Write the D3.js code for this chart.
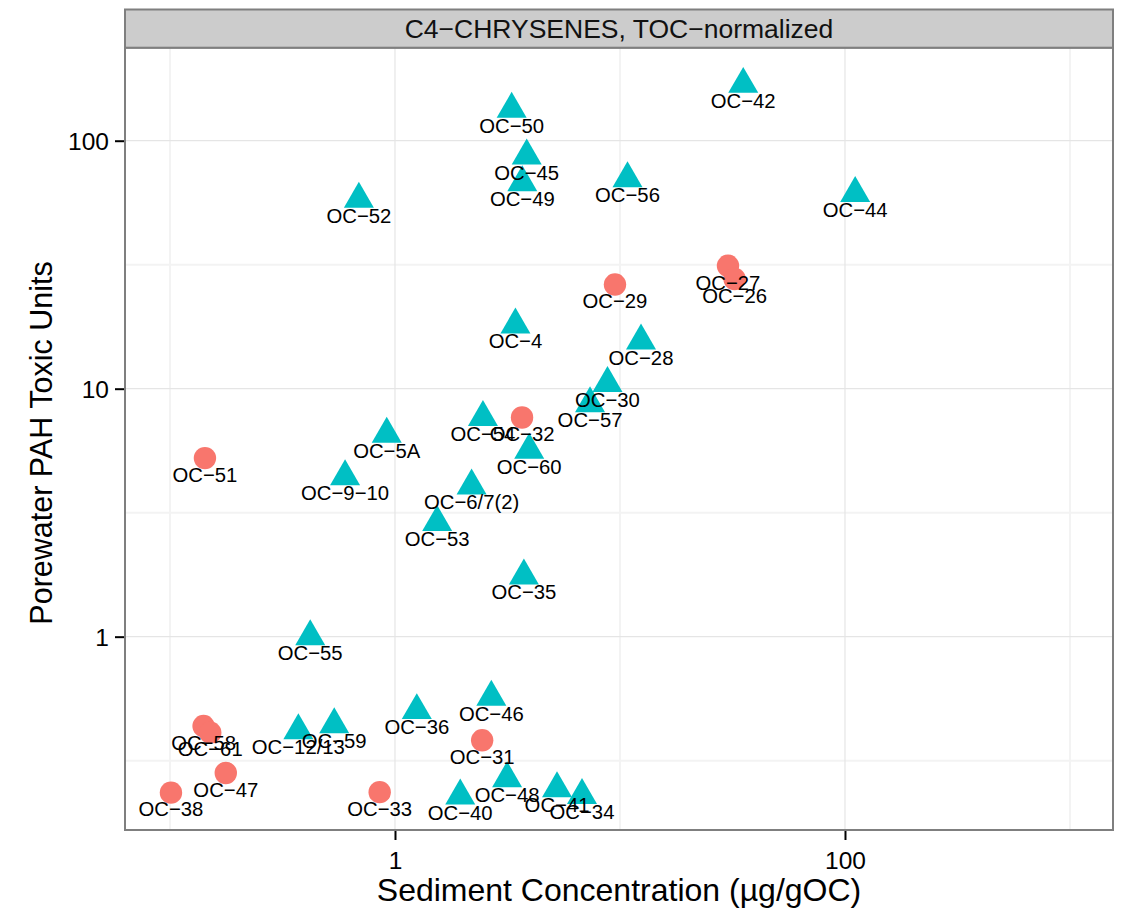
<!DOCTYPE html>
<html>
<head>
<meta charset="utf-8">
<script src="https://cdn.jsdelivr.net/npm/d3@7"></script>
<style>
  html, body { margin: 0; padding: 0; background: #fff; }
  svg { display: block; font-family: "Liberation Sans", Arial, Helvetica, sans-serif; }
</style>
</head>
<body>
<svg id="chart" width="1122" height="914"></svg>
<script>
// ---- data ----
const stripTitle = "C4\u2212CHRYSENES, TOC\u2212normalized";
const xTitle = "Sediment Concentration (\u00b5g/gOC)";
const yTitle = "Porewater PAH Toxic Units";

const siteLabels = [
  "OC\u221242","OC\u221250","OC\u221245","OC\u221249","OC\u221256","OC\u221252","OC\u221244",
  "OC\u22124","OC\u221228","OC\u221230","OC\u221257","OC\u221254","OC\u221260","OC\u22125A",
  "OC\u22129\u221210","OC\u22126/7(2)","OC\u221253","OC\u221235","OC\u221255","OC\u221246",
  "OC\u221236","OC\u221212/13","OC\u221259","OC\u221248","OC\u221240","OC\u221241","OC\u221234",
  "OC\u221227","OC\u221226","OC\u221229","OC\u221232","OC\u221251","OC\u221258","OC\u221261",
  "OC\u221247","OC\u221238","OC\u221233","OC\u221231"
];
const sedConc = [
  35.3, 3.30, 3.85, 3.68, 10.8, 0.691, 111,
  3.43, 12.4, 8.80, 7.36, 2.46, 3.95, 0.919,
  0.600, 2.19, 1.54, 3.74, 0.420, 2.68,
  1.25, 0.372, 0.537, 3.15, 1.95, 5.25, 6.78,
  30.2, 32.3, 9.50, 3.67, 0.143, 0.141, 0.151,
  0.177, 0.101, 0.855, 2.44
];
const toxicUnits = [
  169, 134, 86.9, 67.8, 70.4, 58.1, 61.4,
  18.1, 15.6, 10.5, 8.70, 7.66, 5.66, 6.56,
  4.42, 4.06, 2.89, 1.76, 1.00, 0.571,
  0.504, 0.418, 0.442, 0.268, 0.228, 0.244, 0.229,
  31.3, 27.7, 26.3, 7.65, 5.25, 0.436, 0.410,
  0.282, 0.235, 0.236, 0.382
];
const groups = [
  "T","T","T","T","T","T","T",
  "T","T","T","T","T","T","T",
  "T","T","T","T","T","T",
  "T","T","T","T","T","T","T",
  "C","C","C","C","C","C","C",
  "C","C","C","C"
];
const xTicks = [1, 100];
const xMinor = [0.1, 10, 1000];
const yTicks = [1, 10, 100];
const yMinor = [0.316, 3.16, 31.6];
const groupColors = { C: "#F8766D", T: "#00BFC4" };

// ---- layout ----
const panel = { left: 125, right: 1113, top: 47.7, bottom: 830 };
const strip = { top: 9.5, bottom: 47.7 };

const svg = d3.select("#chart");

const x = d3.scaleLog().domain([0.0631, 1553]).range([panel.left, panel.right]);
const y = d3.scaleLog().domain([0.1661, 237.2]).range([panel.bottom, panel.top]);

const data = siteLabels.map((s, i) => ({ label: s, x: sedConc[i], y: toxicUnits[i], g: groups[i] }));

// panel background
svg.append("rect")
  .attr("x", panel.left).attr("y", panel.top)
  .attr("width", panel.right - panel.left).attr("height", panel.bottom - panel.top)
  .attr("fill", "#fff");

const grid = svg.append("g");
// minor grid
grid.selectAll(".vmin").data(xMinor).join("line")
  .attr("x1", d => x(d)).attr("x2", d => x(d))
  .attr("y1", panel.top).attr("y2", panel.bottom)
  .attr("stroke", "#F3F3F3").attr("stroke-width", 2);
grid.selectAll(".hmin").data(yMinor).join("line")
  .attr("y1", d => y(d)).attr("y2", d => y(d))
  .attr("x1", panel.left).attr("x2", panel.right)
  .attr("stroke", "#F3F3F3").attr("stroke-width", 2);
// major grid
grid.selectAll(".vmaj").data(xTicks).join("line")
  .attr("x1", d => x(d)).attr("x2", d => x(d))
  .attr("y1", panel.top).attr("y2", panel.bottom)
  .attr("stroke", "#E5E5E5").attr("stroke-width", 1.2);
grid.selectAll(".hmaj").data(yTicks).join("line")
  .attr("y1", d => y(d)).attr("y2", d => y(d))
  .attr("x1", panel.left).attr("x2", panel.right)
  .attr("stroke", "#E5E5E5").attr("stroke-width", 1.2);

// points
const triSym = d3.symbol().type(d3.symbolTriangle).size(390);
const pts = svg.append("g");
data.forEach(d => {
  if (d.g === "T") {
    pts.append("path")
      .attr("d", triSym())
      .attr("transform", `translate(${x(d.x)},${y(d.y)})`)
      .attr("fill", groupColors.T);
  } else {
    pts.append("circle")
      .attr("cx", x(d.x)).attr("cy", y(d.y)).attr("r", 11.2)
      .attr("fill", groupColors.C);
  }
});

// labels
svg.append("g").selectAll("text").data(data).join("text")
  .attr("x", d => x(d.x))
  .attr("y", d => y(d.y) + 23.7)
  .attr("text-anchor", "middle")
  .attr("font-size", 20.3)
  .attr("fill", "#000")
  .text(d => d.label);

// panel border
svg.append("rect")
  .attr("x", panel.left).attr("y", panel.top)
  .attr("width", panel.right - panel.left).attr("height", panel.bottom - panel.top)
  .attr("fill", "none").attr("stroke", "#7F7F7F").attr("stroke-width", 2);

// strip
svg.append("rect")
  .attr("x", panel.left).attr("y", strip.top)
  .attr("width", panel.right - panel.left).attr("height", strip.bottom - strip.top)
  .attr("fill", "#CCCCCC").attr("stroke", "#7F7F7F").attr("stroke-width", 2);
svg.append("text")
  .attr("x", (panel.left + panel.right) / 2).attr("y", 38.3)
  .attr("text-anchor", "middle").attr("font-size", 26.5).attr("fill", "#111")
  .text(stripTitle);

// axes
const xAxis = d3.axisBottom(x).tickValues(xTicks).tickFormat(d3.format("d")).tickSize(9).tickPadding(3);
const gx = svg.append("g").attr("transform", `translate(0,${panel.bottom + 1})`).call(xAxis);
gx.select(".domain").remove();
gx.selectAll(".tick line").attr("stroke", "#000").attr("stroke-width", 2);
gx.selectAll(".tick text").attr("font-size", 24.5).attr("fill", "#000")
  .attr("font-family", null).attr("dy", null).attr("y", 38);

const yAxis = d3.axisLeft(y).tickValues(yTicks).tickFormat(d3.format("d")).tickSize(9).tickPadding(6);
const gy = svg.append("g").attr("transform", `translate(${panel.left - 1},0)`).call(yAxis);
gy.select(".domain").remove();
gy.selectAll(".tick line").attr("stroke", "#000").attr("stroke-width", 2);
gy.selectAll(".tick text").attr("font-size", 24.5).attr("fill", "#000")
  .attr("font-family", null).attr("x", -15).attr("dy", "0.35em");

// axis titles
svg.append("text")
  .attr("x", (panel.left + panel.right) / 2).attr("y", 901)
  .attr("text-anchor", "middle").attr("font-size", 32).attr("fill", "#000")
  .text(xTitle);
svg.append("text")
  .attr("transform", `translate(52,443) rotate(-90)`)
  .attr("text-anchor", "middle").attr("font-size", 30.5).attr("fill", "#000")
  .text(yTitle);
</script>
</body>
</html>
